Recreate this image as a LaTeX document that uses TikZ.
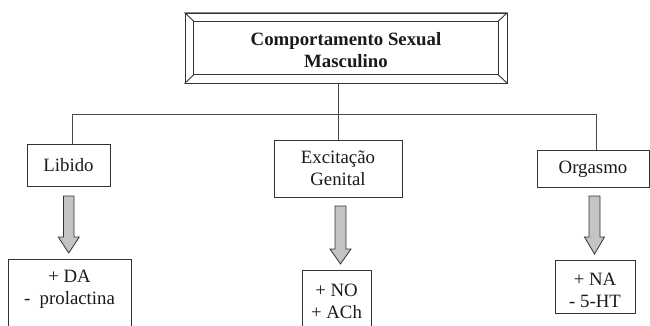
\documentclass[tikz,border=0pt]{standalone}
\usepackage{fontspec}
\setmainfont{Liberation Serif}
\definecolor{linec}{HTML}{333333}
\definecolor{connc}{HTML}{4A4A4A}
\definecolor{framegray}{HTML}{8A8A8A}
\definecolor{arrowfill}{HTML}{C4C4C4}
\definecolor{textc}{HTML}{1A1A1A}
\newcommand{\blockarrow}[6]{%
  \draw[barr] (#1-#5,#2) -- (#1+#5,#2) -- (#1+#5,#3) -- (#1+#6,#3) -- (#1,#4) -- (#1-#6,#3) -- (#1-#5,#3) -- cycle;}
\begin{document}
\begin{tikzpicture}[x=1pt,y=-1pt,
  box/.style={draw=linec, line width=0.9pt, inner sep=0pt},
  txt/.style={font=\fontsize{18.8}{22}\selectfont, text=textc, inner sep=0pt, align=center},
  conn/.style={draw=connc, line width=0.9pt},
  framel/.style={draw=linec, line width=0.9pt},
  barr/.style={draw=linec, fill=arrowfill, line width=0.8pt, line join=miter}]
\clip (0,0) rectangle (650,326);
\fill[white] (0,0) rectangle (650,326);

% title frame
\node[box, minimum width=322, minimum height=70] (top) at (346,48) {};
\draw[framel] ([shift={(9pt,-8.5pt)}]top.north west) rectangle ([shift={(-9pt,8.5pt)}]top.south east);
\draw[framel] (top.north west) -- ([shift={(9pt,-8.5pt)}]top.north west);
\draw[framel] (top.north east) -- ([shift={(-9pt,-8.5pt)}]top.north east);
\draw[framel] (top.south west) -- ([shift={(9pt,8.5pt)}]top.south west);
\draw[framel] (top.south east) -- ([shift={(-9pt,8.5pt)}]top.south east);
\draw[draw=framegray, line width=1pt] (top.north west) -- (top.north east);
\node[txt, font=\fontsize{18.8}{22}\selectfont\bfseries] (title) at ([yshift=-2pt]top.center) {Comportamento Sexual\\Masculino};

% second level
\node[box, txt, minimum width=83, minimum height=42] (lib) at (68.5,165) {Libido};
\node[box, txt, minimum width=128, minimum height=57] (exc) at (338,168.5) {Excita\c{c}\~ao\\Genital};
\node[box, txt, minimum width=112, minimum height=37] (org) at (593,169) {Orgasmo};

% connectors
\coordinate (bl) at (72,114);
\coordinate (br) at (596,114);
\draw[conn] (lib.north -| bl) -- (bl) -- (br) -- (org.north -| br);
\draw[conn] (top.south -| exc.north) -- (exc.north);

% bottom boxes
\node[box, minimum width=123, minimum height=100, anchor=north] (libx) at (69.5,259) {};
\node[txt] (libt) at (69.5,289) {+ DA\\-\ \ prolactina};
\node[box, minimum width=69, minimum height=100, anchor=north] (excx) at (336.5,270) {};
\node[txt] (exct) at (336.5,301) {+ NO\\+ ACh};
\node[box, minimum width=80, minimum height=53] (orgx) at (595,286.5) {};
\node[txt] (orgt) at (595,290.5) {+ NA\\- 5-HT};

% block arrows
\blockarrow{68.75}{196}{237}{253}{5.25}{10.5}
\blockarrow{340.5}{206}{249}{264}{5.5}{10.5}
\blockarrow{594.5}{196}{237}{254}{5.5}{10}
\end{tikzpicture}
\end{document}
